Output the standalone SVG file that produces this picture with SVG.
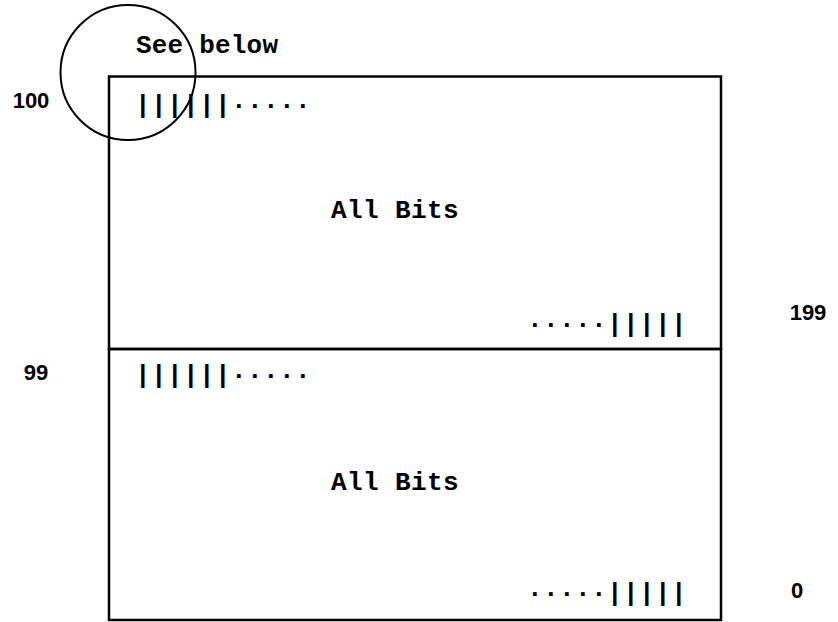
<svg xmlns="http://www.w3.org/2000/svg" width="838" height="622" viewBox="0 0 838 622">
<style>
.mono{font-family:"Liberation Mono","Courier New",monospace;font-weight:bold;font-size:26px;fill:#000}
.num{font-family:"Liberation Sans",Arial,sans-serif;font-weight:bold;font-size:22px;fill:#000;text-anchor:middle}
.bits{font-family:"Liberation Mono","Courier New",monospace;font-weight:bold;font-size:26px;fill:#000;letter-spacing:0.4px}
.box{fill:none;stroke:#000;stroke-width:2.5}
</style>
<rect width="838" height="622" fill="#fff"/>
<g id="upper">
<rect class="box" x="109" y="76.5" width="612" height="272.5"/>
<text class="mono" x="331" y="218" letter-spacing="0.4">All Bits</text>
<text class="bits" x="135" y="113">||||||<tspan dy="-5">.....</tspan></text>
<text class="bits" x="527" y="332"><tspan dy="-5">.....</tspan><tspan dy="5">|||||</tspan></text>
</g>
<g id="lower">
<rect class="box" x="109" y="349" width="612" height="271"/>
<text class="mono" x="331" y="490" letter-spacing="0.4">All Bits</text>
<text class="bits" x="135" y="383">||||||<tspan dy="-5">.....</tspan></text>
<text class="bits" x="527" y="601"><tspan dy="-5">.....</tspan><tspan dy="5">|||||</tspan></text>
</g>
<g id="labels">
<text class="num" x="31" y="108">100</text>
<text class="num" x="808" y="320">199</text>
<text class="num" x="36" y="380">99</text>
<text class="num" x="797" y="598">0</text>
</g>
<g id="callout">
<circle cx="128" cy="72.5" r="67.5" fill="none" stroke="#000" stroke-width="2"/>
<text class="mono" x="136" y="53" letter-spacing="0.2">See below</text>
</g>
</svg>
